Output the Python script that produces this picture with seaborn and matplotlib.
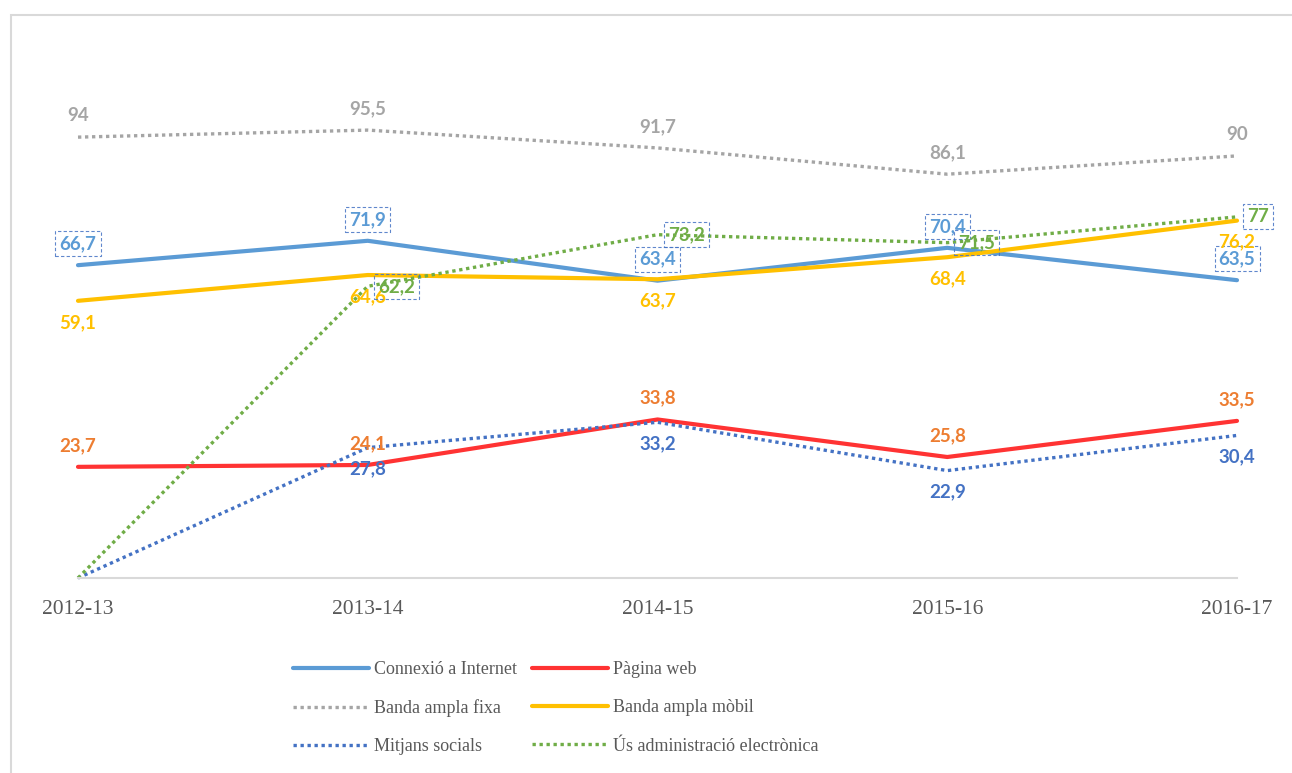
import pandas as pd
import matplotlib.pyplot as plt
import seaborn as sns
from matplotlib.patches import Rectangle

sns.set_theme(style='white')

years = ['2012-13', '2013-14', '2014-15', '2015-16', '2016-17']
internet = [66.7, 71.9, 63.4, 70.4, 63.5]
pagina_web = [23.7, 24.1, 33.8, 25.8, 33.5]
banda_fixa = [94, 95.5, 91.7, 86.1, 90]
banda_mobil = [59.1, 64.6, 63.7, 68.4, 76.2]
mitjans = [0, 27.8, 33.2, 22.9, 30.4]
administracio = [0, 62.2, 73.2, 71.5, 77]

# name, values, line colour, label colour, style, label placement, boxed label
series = [
    ('Connexió a Internet', internet, '#5B9BD5', '#5B9BD5', 'solid', 'above', True),
    ('Pàgina web', pagina_web, '#FF3333', '#ED7D31', 'solid', 'above', False),
    ('Banda ampla fixa', banda_fixa, '#A5A5A5', '#A5A5A5', 'dot', 'above', False),
    ('Banda ampla mòbil', banda_mobil, '#FFC000', '#FFC000', 'solid', 'below', False),
    ('Mitjans socials', mitjans, '#4472C4', '#4472C4', 'dot', 'below', False),
    ('Ús administració electrònica', administracio, '#70AD47', '#70AD47', 'dot', 'right', True),
]

def fmt(v):
    return ('%g' % v).replace('.', ',')

fig = plt.figure(figsize=(12.92, 7.73), dpi=100)
ax = fig.add_axes([78/1292, 1-578/773, (1237-78)/1292, (578-109)/773])

handles = {}
for name, vals, col, lcol, style, place, boxed in series:
    df = pd.DataFrame({'x': range(len(years)), 'y': vals})
    ls = '-' if style == 'solid' else (0, (1, 1.1))
    lw = 3.0 if style == 'solid' else 2.4
    sns.lineplot(data=df, x='x', y='y', ax=ax, color=col, lw=lw, linestyle=ls,
                 label=name, legend=False, clip_on=False)
    handles[name] = ax.lines[-1]
    for i, v in enumerate(vals):
        if v == 0:
            continue
        if place == 'above':
            off, ha = (0, 15.5), 'center'
        elif place == 'below':
            off, ha = (0, -15.5), 'center'
        else:
            off, ha = (7.5, 0), 'left'
        bbox = None
        if boxed:
            bbox = dict(boxstyle='square,pad=0.22', fc='none', ec='#4472C4',
                        ls=(0, (3, 2)), lw=0.8, alpha=0.85)
        ax.annotate(fmt(v), (i, v), xytext=off, textcoords='offset points',
                    ha=ha, va='center', color=lcol, fontsize=13.5,
                    fontweight='bold', family='Lato', bbox=bbox)

ax.set_xlim(0, len(years) - 1)
ax.set_ylim(0, 100)
ax.set_xticks(range(len(years)))
ax.set_xticklabels(years, family='Liberation Serif', fontsize=15.5, color='#595959')
ax.set_yticks([])
ax.set_xlabel('')
ax.set_ylabel('')
ax.tick_params(axis='x', length=0, pad=16)
for s in ['top', 'left', 'right']:
    ax.spines[s].set_visible(False)
ax.spines['bottom'].set_color('#D9D9D9')
ax.spines['bottom'].set_linewidth(1.5)

legend_kw = dict(frameon=False, loc='upper left', borderpad=0, borderaxespad=0,
                 handlelength=4.2, handletextpad=0.3, labelspacing=1.18,
                 prop={'family': 'Liberation Serif', 'size': 13})
col1 = ['Connexió a Internet', 'Banda ampla fixa', 'Mitjans socials']
col2 = ['Pàgina web', 'Banda ampla mòbil', 'Ús administració electrònica']
for names, x0 in [(col1, 293), (col2, 532)]:
    leg = fig.legend([handles[n] for n in names], names,
                     bbox_to_anchor=(x0/1292, 1-661/773), **legend_kw)
    for t in leg.get_texts():
        t.set_color('#595959')

fig.patches.append(Rectangle((11/1292, -0.05), 1.1, 1.05-15/773,
                             transform=fig.transFigure, fill=False,
                             ec='#D9D9D9', lw=1.5))

fig.savefig('out.png', dpi=100)
